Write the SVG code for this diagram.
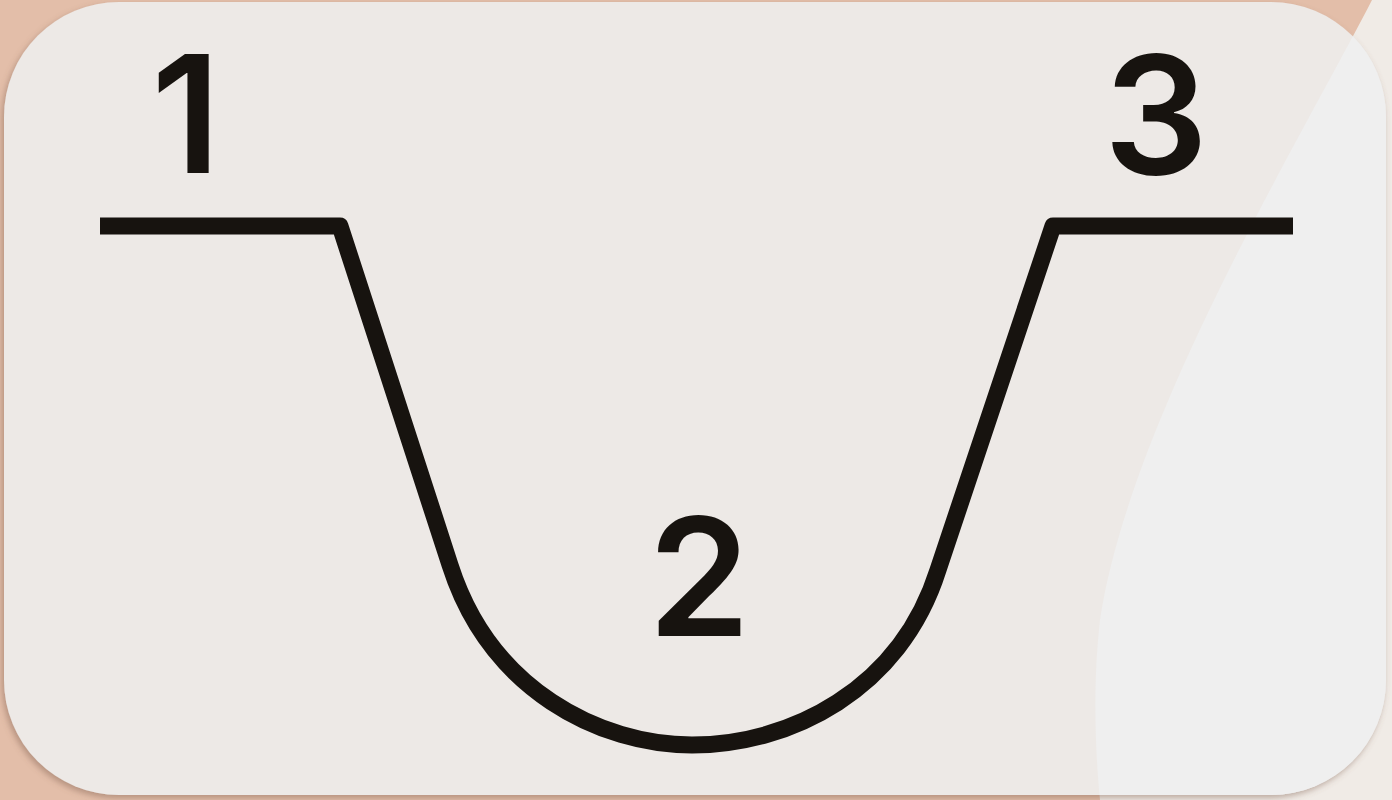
<svg xmlns="http://www.w3.org/2000/svg" width="1392" height="800" viewBox="0 0 1392 800">
  <defs>
    <filter id="shadow" x="-5%" y="-5%" width="110%" height="115%">
      <feDropShadow dx="-2" dy="3" stdDeviation="3" flood-color="#7a5a48" flood-opacity="0.45"/>
    </filter>
    <clipPath id="cardClip">
      <rect x="4" y="2" width="1382" height="793" rx="115" ry="115"/>
    </clipPath>
    <style>
      .num { font-family: Inter, "Liberation Sans", sans-serif; font-size: 164px; font-weight: 600; fill: #17130f; text-anchor: middle; }
      .conn { fill: none; stroke: #17130f; stroke-width: 17; stroke-linejoin: round; stroke-linecap: butt; }
    </style>
  </defs>
  <rect width="1392" height="800" fill="#e3bea9"/>
  <path d="M1372,0 C1300,140 1130,420 1100,620 C1092,690 1096,760 1100,800 L1392,800 L1392,0 Z" fill="#f0ebe6"/>
  <g id="card">
    <rect x="4" y="2" width="1382" height="793" rx="115" ry="115" fill="#ede9e6" filter="url(#shadow)"/>
    <path clip-path="url(#cardClip)" d="M1372,0 C1300,140 1130,420 1100,620 C1092,690 1096,760 1100,800 L1392,800 L1392,0 Z" fill="#efefef"/>
  </g>
  <g id="connectors">
    <path class="conn" d="M100,226 H340 L450,565 C490,690 600,745 692,745 C790,745 900,690 938,570 L1053,226 H1293"/>
  </g>
  <g id="node-1"><text class="num" x="186" y="173">1</text></g>
  <g id="node-2"><text class="num" x="699" y="636">2</text></g>
  <g id="node-3"><text class="num" x="1156" y="174">3</text></g>
</svg>
